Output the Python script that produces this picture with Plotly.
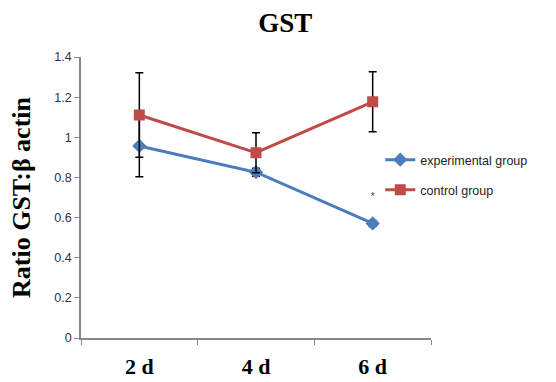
import plotly.graph_objects as go

days = ["2 d", "4 d", "6 d"]
exp_vals = [0.957, 0.826, 0.571]
exp_err = [0.153, 0.02, 0.015]
ctrl_vals = [1.111, 0.923, 1.177]
ctrl_err = [0.21, 0.10, 0.15]
sig_text = ["", "", "*"]
sig_y = [None, None, 0.70]
y_ticks = [0, 0.2, 0.4, 0.6, 0.8, 1.0, 1.2, 1.4]
y_ticktext = ["0", "0.2", "0.4", "0.6", "0.8", "1", "1.2", "1.4"]

blue = "#4a7ebb"
red = "#be4b48"

fig = go.Figure()
fig.add_trace(go.Scatter(
    x=days, y=exp_vals, name="experimental group", mode="lines+markers",
    line=dict(color=blue, width=3),
    marker=dict(symbol="diamond", size=11, color=blue),
    error_y=dict(type="data", array=exp_err, color="black", thickness=1.5, width=4),
    legend="legend",
))
fig.add_trace(go.Scatter(
    x=days, y=ctrl_vals, name="control group", mode="lines+markers",
    line=dict(color=red, width=3),
    marker=dict(symbol="square", size=11, color=red),
    error_y=dict(type="data", array=ctrl_err, color="black", thickness=1.5, width=4),
    legend="legend2",
))
fig.add_trace(go.Scatter(
    x=days, y=sig_y, text=sig_text, mode="text", showlegend=False,
    textfont=dict(size=11, color="#555555", family="Liberation Sans"),
    hoverinfo="skip",
))

legend_common = dict(
    font=dict(family="Liberation Sans", size=12.5, color="#222222"),
    bgcolor="rgba(0,0,0,0)", xanchor="left", yanchor="middle",
    itemwidth=30, tracegroupgap=0,
)
fig.update_layout(
    width=556, height=382,
    margin=dict(l=81, r=125, t=57, b=44),
    paper_bgcolor="white", plot_bgcolor="white",
    title=dict(text="<b>GST</b>", x=0.513, xanchor="center", y=1 - 23 / 382, yanchor="middle",
               font=dict(family="Liberation Serif", size=27, color="black")),
    legend=dict(x=0.855, y=(338 - 160) / 281, **legend_common),
    legend2=dict(x=0.855, y=(338 - 190) / 281, **legend_common),
    xaxis=dict(
        type="category", categoryorder="array", categoryarray=days,
        range=[-0.5, 2.5], tickson="boundaries", automargin=False,
        ticks="outside", ticklen=5, tickcolor="#888888",
        showline=True, linecolor="#888888", linewidth=1.5,
        showgrid=False, zeroline=False,
        tickfont=dict(family="Liberation Serif", size=22, color="black"),
        ticklabelstandoff=8,
        ticktext=["<b>2 d</b>", "<b>4 d</b>", "<b>6 d</b>"], tickvals=days,
    ),
    yaxis=dict(
        range=[0, 1.4], tickvals=y_ticks, ticktext=y_ticktext, automargin=False,
        ticks="outside", ticklen=5, tickcolor="#888888",
        showline=True, linecolor="#888888", linewidth=1.5,
        showgrid=False, zeroline=False,
        tickfont=dict(family="Liberation Sans", size=12.5, color="#333333"),
        title=dict(text="<b>Ratio GST:β actin</b>", standoff=16,
                   font=dict(family="Liberation Serif", size=26, color="black")),
    ),
)

fig.write_html("out.html", config={"displayModeBar": False},
               post_script="document.body.style.margin='0';")
